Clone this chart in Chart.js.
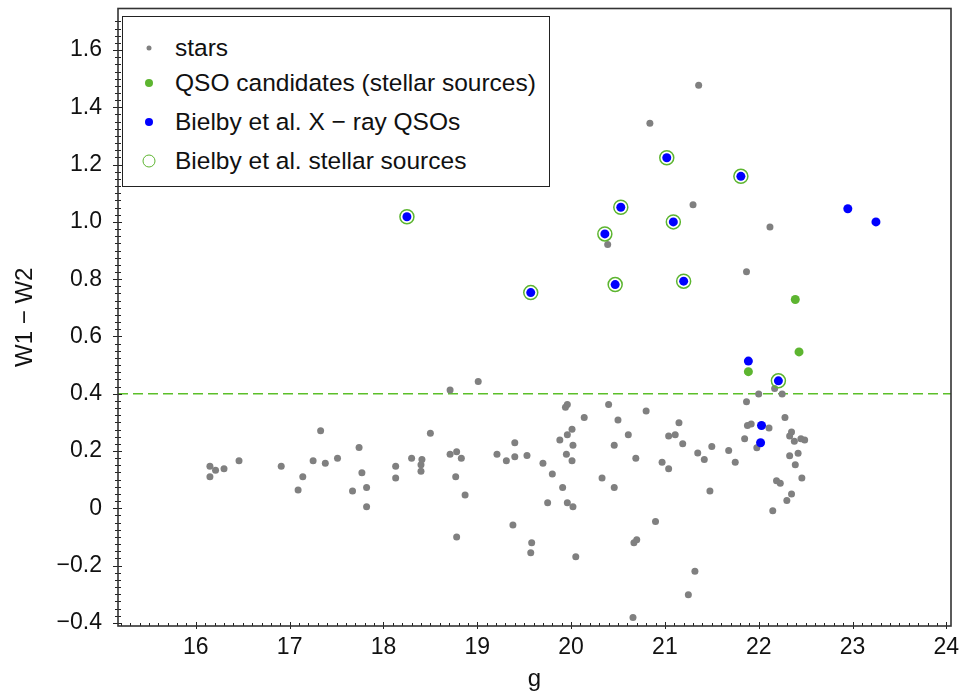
<!DOCTYPE html>
<html>
<head>
<meta charset="utf-8">
<script src="https://cdn.jsdelivr.net/npm/chart.js@4"></script>
<style>
  body { margin: 0; background: #fff; }
  #wrap { position: relative; width: 970px; height: 693px; }
  #legend {
    position: absolute; left: 122px; top: 16px; width: 426px; height: 169px;
    border: 1.2px solid #222; background: #fff;
    font-family: 'Liberation Sans', Arial, sans-serif; font-size: 24.5px; color: #111;
  }
  .row { position: absolute; left: 0; height: 30px; line-height: 30px; white-space: nowrap; }
  .row .mk { position: absolute; left: 26px; top: 15px; transform: translate(-50%, -50%); border-radius: 50%; }
  .row .tx { position: absolute; left: 52px; top: 0; }
</style>
</head>
<body>
<div id="wrap">
  <canvas id="chart"></canvas>
  <div id="legend">
    <div class="row" style="top:16px"><span class="mk" style="width:5px;height:5px;background:#808080"></span><span class="tx">stars</span></div>
    <div class="row" style="top:51px"><span class="mk" style="width:8px;height:8px;background:#5db530"></span><span class="tx">QSO candidates (stellar sources)</span></div>
    <div class="row" style="top:90px"><span class="mk" style="width:8px;height:8px;background:#0000ff"></span><span class="tx">Bielby et al. X &#8722; ray QSOs</span></div>
    <div class="row" style="top:129px"><span class="mk" style="width:11px;height:11px;border:1.5px solid #5db530"></span><span class="tx">Bielby et al. stellar sources</span></div>
  </div>
</div>
<script>
/* ---------- data ---------- */
const starsG = [
  16.15, 16.21, 16.15, 16.30, 16.46, 16.91, 17.09, 17.14, 17.25, 17.33, 17.38, 17.51, 17.67, 17.74, 17.77, 17.82, 17.82, 18.13, 18.13,
  18.71, 19.01, 18.30, 18.41, 18.40, 18.40, 18.50, 18.71, 18.78, 18.83, 18.77, 18.87, 18.78, 19.21, 19.31, 19.40, 19.40, 19.53,
  19.38, 19.58, 19.57, 19.70, 19.80, 19.75, 19.88, 19.91, 19.94, 19.96, 19.96, 20.01, 20.02, 19.95, 20.01, 19.96, 20.02, 20.05,
  20.14, 20.40, 20.50, 20.61, 20.46, 20.33, 20.46, 20.69, 20.80, 20.90, 20.67, 20.70, 20.66, 20.97, 21.04, 21.04,
  21.11, 21.15, 21.19, 21.35, 21.42, 21.50, 21.48, 21.68, 21.75, 21.32, 21.25, 21.87, 22.00, 22.17, 22.25, 21.88, 21.92, 22.11,
  21.85, 21.98, 22.28, 22.35, 22.33, 22.38, 22.45, 22.49, 22.42, 22.33, 22.39, 22.46, 22.19, 22.23, 22.35, 22.30, 22.15,
  20.84, 20.39, 21.36, 21.30, 22.12, 21.87
];
const starsW = [
  0.147, 0.133, 0.110, 0.138, 0.166, 0.147, 0.064, 0.110, 0.166, 0.271, 0.157, 0.175, 0.060, 0.212, 0.124, 0.073, 0.005, 0.147, 0.106,
  0.413, 0.443, 0.175, 0.170, 0.152, 0.129, 0.262, 0.189, 0.197, 0.175, 0.110, 0.046, -0.100, 0.189, 0.166, 0.229, 0.180, 0.184,
  -0.058, -0.120, -0.155, 0.157, 0.120, 0.019, 0.238, 0.073, 0.353, 0.362, 0.257, 0.276, 0.220, 0.189, 0.166, 0.019, 0.005, -0.169,
  0.317, 0.362, 0.308, 0.257, 0.220, 0.106, 0.073, 0.175, 0.340, -0.046, -0.120, -0.110, -0.381, 0.161, 0.138, 0.252,
  0.257, 0.299, 0.225, 0.193, 0.170, 0.216, 0.060, 0.202, 0.161, -0.220, -0.302, 0.372, 0.399, 0.418, 0.399, 0.289, 0.294, 0.280,
  0.243, 0.211, 0.317, 0.266, 0.252, 0.234, 0.243, 0.238, 0.192, 0.183, 0.152, 0.106, 0.096, 0.087, 0.050, 0.027, -0.009,
  1.344, 0.921, 1.477, 1.060, 0.982, 0.826
];

const qsoCandG = [22.39, 22.43, 21.89];
const qsoCandW = [0.729, 0.546, 0.477];

const xrayG = [18.25, 19.57, 20.36, 20.47, 20.53, 21.02, 21.09, 21.20, 21.81, 22.21, 22.95, 23.25, 21.89, 22.03, 22.02];
const xrayW = [1.018, 0.753, 0.958, 0.781, 1.051, 1.224, 1.000, 0.793, 1.159, 0.445, 1.046, 1.000, 0.514, 0.289, 0.229];

const stellarG = [18.25, 19.57, 20.36, 20.47, 20.53, 21.02, 21.09, 21.20, 21.81, 22.21];
const stellarW = [1.018, 0.753, 0.958, 0.781, 1.051, 1.224, 1.000, 0.793, 1.159, 0.445];

const cutLevel = 0.4;

const xRange = [15.17, 24.05];
const yRange = [-0.411, 1.745];
const xTickValues = [16, 17, 18, 19, 20, 21, 22, 23, 24];
const yTickValues = [-0.4, -0.2, 0, 0.2, 0.4, 0.6, 0.8, 1.0, 1.2, 1.4, 1.6];
const yTickLabels = ['\u22120.4', '\u22120.2', '0', '0.2', '0.4', '0.6', '0.8', '1.0', '1.2', '1.4', '1.6'];

const GREEN = '#5db530';
const pts = (xs, ys) => xs.map((x, i) => ({ x: x, y: ys[i] }));

/* frame + small inward ticks like the original plot */
const framePlugin = {
    id: 'frame',
    afterDatasetsDraw(chart) {
        const { ctx, chartArea: a, scales } = chart;
        const sx = scales.x, sy = scales.y;
        ctx.save();
        ctx.strokeStyle = '#222';
        ctx.lineWidth = 1;
        ctx.beginPath();
        for (let v = 152; v <= 240; v++) {
            const px = Math.round(sx.getPixelForValue(v / 10)) + 0.5;
            if (px < a.left || px > a.right) continue;
            const major = v % 10 === 0;
            ctx.moveTo(px, a.bottom + (major ? 3 : 0));
            ctx.lineTo(px, a.bottom - (major ? 4 : 3));
        }
        for (let v = -16; v <= 68; v++) {
            const py = Math.round(sy.getPixelForValue(v * 0.025)) + 0.5;
            if (py < a.top || py > a.bottom) continue;
            const major = v % 8 === 0;
            ctx.moveTo(a.left - (major ? 5 : 3), py);
            ctx.lineTo(a.left + (major ? 4 : 3), py);
        }
        ctx.stroke();
        ctx.lineWidth = 1.6;
        ctx.strokeStyle = '#333';
        ctx.strokeRect(a.left, a.top, a.right - a.left, a.bottom - a.top);
        ctx.restore();
    }
};

const FONT = "'Liberation Sans', Arial, sans-serif";

new Chart(document.getElementById('chart'), {
    type: 'scatter',
    data: {
        datasets: [
            { label: 'Bielby et al. X - ray QSOs', data: pts(xrayG, xrayW), backgroundColor: '#0000ff', borderWidth: 0, pointRadius: 4.5, order: 1 },
            { label: 'Bielby et al. stellar sources', data: pts(stellarG, stellarW), backgroundColor: 'rgba(0,0,0,0)', borderColor: GREEN, borderWidth: 1.5, pointRadius: 7, order: 2 },
            { label: 'QSO candidates (stellar sources)', data: pts(qsoCandG, qsoCandW), backgroundColor: GREEN, borderWidth: 0, pointRadius: 4.5, order: 3 },
            { label: 'stars', data: pts(starsG, starsW), backgroundColor: '#808080', borderWidth: 0, pointRadius: 3.5, order: 4 },
            { type: 'line', label: 'cut', data: [{ x: xRange[0], y: cutLevel }, { x: xRange[1], y: cutLevel }], borderColor: '#5cbf2a', borderWidth: 1.5, borderDash: [10, 5], pointRadius: 0, order: 5 },
        ],
    },
    options: {
        responsive: true,
        maintainAspectRatio: false,
        animation: false,
        events: [],
        layout: { padding: { top: 4, right: 19, left: 0, bottom: 0 } },
        plugins: { legend: { display: false }, tooltip: { enabled: false } },
        scales: {
            x: {
                type: 'linear', min: xRange[0], max: xRange[1],
                afterFit: s => { s.height = 67; s.paddingLeft = 0; s.paddingRight = 0; },
                afterBuildTicks: s => { s.ticks = xTickValues.map(v => ({ value: v })); },
                grid: { display: false, drawTicks: false },
                border: { display: false },
                ticks: { color: '#111', font: { family: FONT, size: 23 }, padding: 8, callback: v => String(v) },
                title: { display: true, text: 'g', color: '#111', font: { family: FONT, size: 24, lineHeight: 1 }, padding: { top: 0, bottom: 2 } },
            },
            y: {
                type: 'linear', min: yRange[0], max: yRange[1],
                afterFit: s => { s.width = 118; s.paddingTop = 0; s.paddingBottom = 0; },
                afterBuildTicks: s => { s.ticks = yTickValues.map(v => ({ value: v })); },
                grid: { display: false, drawTicks: false },
                border: { display: false },
                ticks: { color: '#111', font: { family: FONT, size: 23 }, padding: 16,
                    callback: v => { const i = yTickValues.findIndex(t => Math.abs(t - v) < 1e-6); return i >= 0 ? yTickLabels[i] : ''; } },
                title: { display: true, text: 'W1 \u2212 W2', color: '#111', font: { family: FONT, size: 24, lineHeight: 1 }, padding: { top: 13, bottom: 0 } },
            },
        },
    },
    plugins: [framePlugin],
});
</script>
</body>
</html>
